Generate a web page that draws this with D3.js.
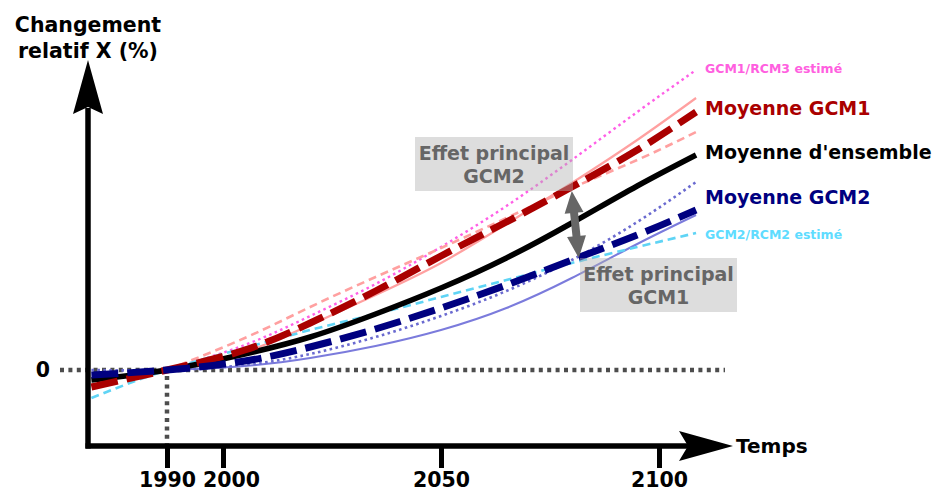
<!DOCTYPE html>
<html>
<head>
<meta charset="utf-8">
<script src="https://cdn.jsdelivr.net/npm/d3@7"></script>
<style>
  body { margin: 0; background: #fff; }
  svg text { font-family: "DejaVu Sans", sans-serif; font-weight: bold; }
</style>
</head>
<body>
<div id="chart"></div>
<script>
///////////////////////////////////////////////////////////////////////////
////////////////////////////////// Data ///////////////////////////////////
///////////////////////////////////////////////////////////////////////////

var years = [1976.5, 1990, 2005, 2020, 2035, 2050, 2065, 2080, 2095, 2108.5]

//relative change X (%), null = curve not drawn there
var moyenneGCM1 = [-1.7, 0, 2.0, 4.7, 7.9, 11.4, 14.8, 18.3, 22.0, 25.8]
var moyenneEnsemble = [-1.0, 0, 1.6, 3.3, 5.6, 8.2, 11.2, 14.7, 18.4, 21.5]
var moyenneGCM2 = [-0.5, 0, 0.9, 2.3, 4.1, 6.2, 8.5, 11.0, 13.5, 16.0]
var gcm1Rcm3 = [null, 0, 2.5, 5.4, 8.6, 12.3, 16.4, 21.0, 25.8, 30.0]
var gcm1RcmA = [null, 0, 3.2, 6.3, 9.3, 12.2, 15.2, 18.2, 21.0, 23.8]
var gcm1RcmB = [null, 0, 1.8, 4.5, 7.5, 10.7, 14.6, 18.7, 23.0, 27.2]
var gcm2Rcm2 = [-2.8, 0, 2.2, 4.0, 5.6, 7.3, 9.0, 10.7, 12.3, 13.7]
var gcm2RcmA = [0, 0, 0.5, 1.6, 3.3, 5.4, 7.9, 11.0, 14.8, 18.8]
var gcm2RcmB = [null, 0, 0.4, 1.2, 2.4, 4.0, 6.2, 9.2, 12.6, 15.5]

var xTicks = [1990, 2000, 2050, 2100]
var yTicks = [0]

var seriesLabels = ["GCM1/RCM3 estimé", "Moyenne GCM1", "Moyenne d'ensemble", "Moyenne GCM2", "GCM2/RCM2 estimé"]
var effetLabels = [["Effet principal", "GCM2"], ["Effet principal", "GCM1"]]

//main effect arrow: from GCM1 mean down to GCM2 mean
var arrowFrom = [2080, 17.9]
var arrowTo = [2081.6, 11.2]

///////////////////////////////////////////////////////////////////////////
//////////////////////////// Set up the svg ///////////////////////////////
///////////////////////////////////////////////////////////////////////////

var width = 933
var height = 489

var svg = d3.select("#chart").append("svg")
	.attr("width", width)
	.attr("height", height)

//schematic time axis, not linear over the whole range
var xScale = d3.scaleLinear()
	.domain([1990, 2000, 2050, 2100])
	.range([167, 223, 441, 659])

var yScale = d3.scaleLinear()
	.domain([0, 30])
	.range([370, 70])

var x0 = 88, yAxisY = 446

///////////////////////////////////////////////////////////////////////////
/////////////////////////// Reference dotted lines ////////////////////////
///////////////////////////////////////////////////////////////////////////

svg.append("line")
	.attr("x1", 60).attr("x2", 725)
	.attr("y1", yScale(0)).attr("y2", yScale(0))
	.style("stroke", "#4d4d4d")
	.style("stroke-width", 4.5)
	.style("stroke-dasharray", "4,4.4")

svg.append("line")
	.attr("x1", xScale(1990)).attr("x2", xScale(1990))
	.attr("y1", yScale(0) + 6).attr("y2", yAxisY)
	.style("stroke", "#4d4d4d")
	.style("stroke-width", 4.5)
	.style("stroke-dasharray", "4,4.4")

///////////////////////////////////////////////////////////////////////////
///////////////////////////////// Curves //////////////////////////////////
///////////////////////////////////////////////////////////////////////////

var series = [
	{values: gcm1Rcm3, color: "#ff5fe6", width: 2.4, dash: "2.6,3.4"},
	{values: gcm1RcmB, color: "#ffa0a0", width: 2.2, dash: null},
	{values: gcm1RcmA, color: "#ffa0a0", width: 2.6, dash: "8,5"},
	{values: gcm2RcmB, color: "#7b7bdc", width: 2, dash: null},
	{values: gcm2RcmA, color: "#6a6ad0", width: 2.6, dash: "2.6,3.4"},
	{values: gcm2Rcm2, color: "#5fd4f5", width: 2.6, dash: "8,5"},
	{values: moyenneEnsemble, color: "#000000", width: 5.5, dash: null},
	{values: moyenneGCM1, color: "#aa0000", width: 7, dash: "27,9"},
	{values: moyenneGCM2, color: "#000080", width: 7, dash: "27,9"}
]

var line = d3.line()
	.defined(d => d.v != null)
	.x(d => xScale(d.year))
	.y(d => yScale(d.v))
	.curve(d3.curveNatural)

svg.append("g").selectAll("path")
	.data(series)
	.enter()
	.append("path")
	.attr("d", s => line(years.map((yr, i) => ({year: yr, v: s.values[i]}))))
	.style("fill", "none")
	.style("stroke", s => s.color)
	.style("stroke-width", s => s.width)
	.style("stroke-dasharray", s => s.dash)

///////////////////////////////////////////////////////////////////////////
///////////////////////////////// Axes ////////////////////////////////////
///////////////////////////////////////////////////////////////////////////

//y axis with arrow head
svg.append("line")
	.attr("x1", x0).attr("x2", x0)
	.attr("y1", yAxisY + 2.5).attr("y2", 108)
	.style("stroke", "#000").style("stroke-width", 5.5)
svg.append("path")
	.attr("d", "M" + x0 + ",60L" + (x0 - 15) + ",114L" + x0 + ",107L" + (x0 + 15) + ",114Z")
	.style("fill", "#000")

//x axis with arrow head
svg.append("line")
	.attr("x1", x0 - 2.5).attr("x2", 690)
	.attr("y1", yAxisY).attr("y2", yAxisY)
	.style("stroke", "#000").style("stroke-width", 5.5)
svg.append("path")
	.attr("d", "M733," + yAxisY + "L679," + (yAxisY - 15) + "L688," + yAxisY + "L679," + (yAxisY + 15) + "Z")
	.style("fill", "#000")

var xAxis = svg.append("g")
	.attr("transform", "translate(0," + yAxisY + ")")
	.call(d3.axisBottom(xScale).tickValues(xTicks).tickSize(22).tickPadding(4).tickFormat(d3.format("d")))
xAxis.select(".domain").remove()
xAxis.selectAll(".tick line").style("stroke", "#000").style("stroke-width", 5)
xAxis.selectAll(".tick text")
	.style("font-size", "20.5px")
	.style("fill", "#000")
	.attr("dx", d => d === 2000 ? 8 : 0)

var yAxis = svg.append("g")
	.attr("transform", "translate(" + x0 + ",0)")
	.call(d3.axisLeft(yScale).tickValues(yTicks).tickSize(0).tickPadding(38))
yAxis.select(".domain").remove()
yAxis.selectAll(".tick text")
	.style("font-size", "20.5px")
	.style("fill", "#000")

svg.append("text")
	.attr("x", 736).attr("y", 453)
	.style("font-size", "20px")
	.text("Temps")

svg.append("text")
	.attr("text-anchor", "middle")
	.style("font-size", "20.5px")
	.selectAll("tspan")
	.data(["Changement", "relatif X (%)"])
	.enter()
	.append("tspan")
	.attr("x", x0)
	.attr("y", (d, i) => 32 + i * 26)
	.text(d => d)

///////////////////////////////////////////////////////////////////////////
///////////////////////////// Series labels ///////////////////////////////
///////////////////////////////////////////////////////////////////////////

var labelStyle = [
	{y: 73, size: 12.5, color: "#ff5fe0"},
	{y: 115, size: 19, color: "#aa0000"},
	{y: 159, size: 19, color: "#000000"},
	{y: 204, size: 19, color: "#000080"},
	{y: 239, size: 12.5, color: "#5fdcff"}
]

svg.append("g").selectAll("text")
	.data(seriesLabels)
	.enter()
	.append("text")
	.attr("x", 705)
	.attr("y", (d, i) => labelStyle[i].y)
	.style("font-size", (d, i) => labelStyle[i].size + "px")
	.style("fill", (d, i) => labelStyle[i].color)
	.text(d => d)

///////////////////////////////////////////////////////////////////////////
///////////////////////////// Main effects ////////////////////////////////
///////////////////////////////////////////////////////////////////////////

var boxes = [{x: 415, y: 137, w: 158, h: 54}, {x: 580, y: 258, w: 157, h: 54}]

var eff = svg.append("g").selectAll("g")
	.data(effetLabels)
	.enter()
	.append("g")
	.attr("transform", (d, i) => "translate(" + boxes[i].x + "," + boxes[i].y + ")")

eff.append("rect")
	.attr("width", (d, i) => boxes[i].w)
	.attr("height", (d, i) => boxes[i].h)
	.style("fill", "#b0b0b0")
	.style("opacity", 0.43)

eff.each(function(d, i) {
	d3.select(this).append("text")
		.attr("text-anchor", "middle")
		.style("font-size", "19px")
		.style("fill", "#666")
		.selectAll("tspan")
		.data(d)
		.enter()
		.append("tspan")
		.attr("x", boxes[i].w / 2)
		.attr("y", (t, j) => 23 + j * 23)
		.text(t => t)
})

//double headed arrow
function arrowPath(x1, y1, x2, y2, shaft, headW, headL) {
	var dx = x2 - x1, dy = y2 - y1
	var len = Math.sqrt(dx * dx + dy * dy)
	var ux = dx / len, uy = dy / len
	var nx = -uy, ny = ux
	var pts = [
		[x1, y1],
		[x1 + ux * headL + nx * headW / 2, y1 + uy * headL + ny * headW / 2],
		[x1 + ux * headL + nx * shaft / 2, y1 + uy * headL + ny * shaft / 2],
		[x2 - ux * headL + nx * shaft / 2, y2 - uy * headL + ny * shaft / 2],
		[x2 - ux * headL + nx * headW / 2, y2 - uy * headL + ny * headW / 2],
		[x2, y2],
		[x2 - ux * headL - nx * headW / 2, y2 - uy * headL - ny * headW / 2],
		[x2 - ux * headL - nx * shaft / 2, y2 - uy * headL - ny * shaft / 2],
		[x1 + ux * headL - nx * shaft / 2, y1 + uy * headL - ny * shaft / 2],
		[x1 + ux * headL - nx * headW / 2, y1 + uy * headL - ny * headW / 2]
	]
	return "M" + pts.map(p => p.join(",")).join("L") + "Z"
}

svg.append("path")
	.attr("d", arrowPath(xScale(arrowFrom[0]), yScale(arrowFrom[1]), xScale(arrowTo[0]), yScale(arrowTo[1]), 8, 19, 22))
	.style("fill", "#666")
</script>
</body>
</html>
